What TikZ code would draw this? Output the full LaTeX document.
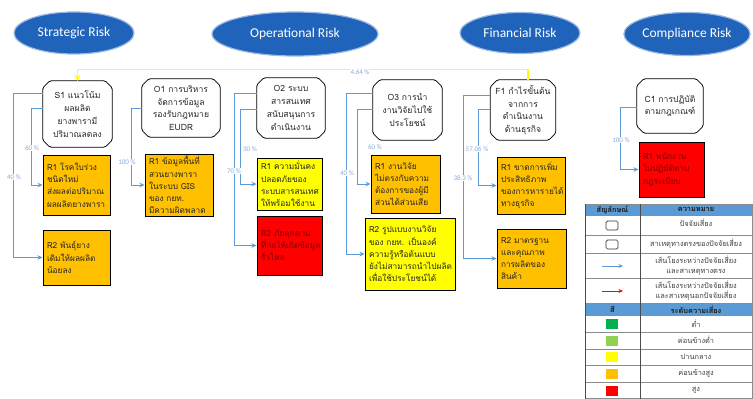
\documentclass[tikz,border=0pt]{standalone}
\usepackage{fontspec}
\setmainfont{Carlito}
\newfontfamily\thai[Script=Thai]{Loma}
\usetikzlibrary{shapes.geometric,arrows.meta,calc}
\definecolor{hdrblue}{HTML}{1F63BA}
\definecolor{hdredge}{HTML}{9DB9E0}
\definecolor{lineblue}{HTML}{5B9BD5}
\definecolor{pctcol}{HTML}{8EAADB}
\definecolor{rred}{HTML}{FF0000}
\definecolor{rorange}{HTML}{FFC000}
\definecolor{ryellow}{HTML}{FFFF00}
\definecolor{rgreen}{HTML}{00B050}
\definecolor{rlgreen}{HTML}{92D050}
\definecolor{legblue}{HTML}{5B9BD5}
\definecolor{darkred}{HTML}{7F0000}
\definecolor{gridcol}{HTML}{8C8C8C}
\newcommand\chambox[1]{\draw[cbline] ($(#1.north west)+(7,0)$) -- ($(#1.north east)+(-7,0)$) -- ($(#1.north east)+(0,7)$) -- ($(#1.south east)+(0,-7)$) -- ($(#1.south east)+(-7,0)$) -- ($(#1.south west)+(7,0)$) -- ($(#1.south west)+(0,-7)$) -- ($(#1.north west)+(0,7)$) -- cycle;}
\tikzset{
  hdr/.style={ellipse, fill=hdrblue, draw=hdredge, line width=1.2pt, text=white, font=\fontsize{13.5}{15}\selectfont, inner sep=0pt},
  causebox/.style={rectangle, draw=none, align=center, inner sep=1pt, font=\thai\fontsize{8.6}{12.8}\selectfont, text=black!85},
  cbline/.style={draw=black, line width=0.8pt, rounded corners=1.5pt},
  riskbox/.style={rectangle, draw=black, line width=1pt, align=left, inner xsep=4pt, inner ysep=1pt, font=\thai\fontsize{8.3}{12.2}\selectfont, text=black!85},
  rkred/.style={riskbox, fill=rred, text=darkred},
  rkorange/.style={riskbox, fill=rorange},
  rkyellow/.style={riskbox, fill=ryellow},
  link/.style={draw=lineblue, line width=0.9pt, -{Stealth[length=5pt,width=4.5pt]}},
  ylink/.style={draw=ryellow, line width=1.2pt, -{Stealth[length=6pt,width=6pt]}},
  pct/.style={font=\fontsize{7}{8}\selectfont, text=pctcol, fill=white, inner sep=0.8pt},
  legtxt/.style={font=\thai\fontsize{7.4}{10}\selectfont, text=black!75, align=center, inner sep=0pt},
  leghd/.style={font=\thai\bfseries\fontsize{7.4}{8}\selectfont, text=black!90, inner sep=0pt},
  legsq/.style={rectangle, draw=black!80, line width=0.7pt, rounded corners=1.5pt, minimum width=12pt, minimum height=9pt, inner sep=0pt},
  colsq/.style={rectangle, draw=none, minimum width=12pt, minimum height=10pt, inner sep=0pt}
}
\begin{document}
\begin{tikzpicture}[x=1pt,y=-1pt]
\useasboundingbox (0,0) rectangle (753,399);
\fill[white] (0,0) rectangle (753,399);

% header ellipses
\node[hdr, minimum width=120pt, minimum height=42pt] (hs) at (74,33) {Strategic Risk};
\node[hdr, minimum width=166pt, minimum height=44pt] (ho) at (295,34) {Operational Risk};
\node[hdr, minimum width=120pt, minimum height=41pt] (hf) at (520,33) {Financial Risk};
\node[hdr, minimum width=125pt, minimum height=43pt] (hc) at (687,34) {Compliance Risk};

% cause boxes
\node[causebox, minimum width=69pt, minimum height=66pt] (s1) at (77.5,114) {S1 แนวโน้ม\\ผลผลิต\\ยางพารามี\\ปริมาณลดลง};
\node[causebox, minimum width=78pt, minimum height=58pt] (o1) at (181,108) {O1 การบริหาร\\จัดการข้อมูล\\รองรับกฎหมาย\\EUDR};
\node[causebox, minimum width=68pt, minimum height=60pt] (o2) at (291,108) {O2 ระบบ\\สารสนเทศ\\สนับสนุนการ\\ดำเนินงาน};
\node[causebox, minimum width=69pt, minimum height=60pt] (o3) at (407.5,110) {O3 การนำ\\งานวิจัยไปใช้\\ประโยชน์};
\node[causebox, minimum width=65pt, minimum height=60pt] (f1) at (523,110) {F1 กำไรขั้นต้น\\จากการ\\ดำเนินงาน\\ด้านธุรกิจ};
\node[causebox, minimum width=66pt, minimum height=54pt] (c1) at (670,106) {C1 การปฏิบัติ\\ตามกฎเกณฑ์};
\chambox{s1}\chambox{o1}\chambox{o2}\chambox{o3}\chambox{f1}\chambox{c1}

% risk boxes
\node[rkorange, text width=59pt, minimum height=60pt] (s1r1) at (76.5,185) {R1 โรคใบร่วง\\ชนิดใหม่\\ส่งผลต่อปริมาณ\\ผลผลิตยางพารา};
\node[rkorange, text width=59pt, minimum height=55pt] (s1r2) at (76.5,257.5) {R2 พันธุ์ยาง\\เดิมให้ผลผลิต\\น้อยลง};
\node[rkorange, text width=60pt, minimum height=62pt] (o1r1) at (179,185) {R1 ข้อมูลพื้นที่\\สวนยางพารา\\ในระบบ GIS\\ของ กยท.\\มีความผิดพลาด};
\node[rkyellow, text width=57pt, minimum height=52pt] (o2r1) at (289.5,184) {R1 ความมั่นคง\\ปลอดภัยของ\\ระบบสารสนเทศ\\ให้พร้อมใช้งาน};
\node[rkred, text width=57pt, minimum height=59pt] (o2r2) at (289.5,245.5) {R2 ภัยคุกคาม\\ที่ก่อให้เกิดข้อมูล\\รั่วไหล};
\node[rkorange, text width=61pt, minimum height=58pt] (o3r1) at (405.5,184) {R1 งานวิจัย\\ไม่ตรงกับความ\\ต้องการของผู้มี\\ส่วนได้ส่วนเสีย};
\node[rkyellow, text width=82pt, minimum height=72pt] (o3r2) at (410,254) {R2 รูปแบบงานวิจัย\\ของ กยท. เป็นองค์\\ความรู้หรือต้นแบบ\\ยังไม่สามารถนำไปผลิต\\เพื่อใช้ประโยชน์ได้};
\node[rkorange, text width=60pt, minimum height=57pt] (f1r1) at (531,185.5) {R1 ขาดการเพิ่ม\\ประสิทธิภาพ\\ของการหารายได้\\ทางธุรกิจ};
\node[rkorange, text width=61pt, minimum height=59pt] (f1r2) at (531.5,258.5) {R2 มาตรฐาน\\และคุณภาพ\\การผลิตของ\\สินค้า};
\node[rkred, text width=57pt, minimum height=55pt] (c1r1) at (671.5,169.5) {R1 พนักงาน\\ไม่ปฏิบัติตาม\\กฎระเบียบ};

% connectors
\draw[link] ([yshift=21pt]s1.west) -- ++(-29,0) |- (s1r2.west);
\draw[link] ([yshift=6pt]s1.west) -- ++(-11,0) |- (s1r1.west);
\draw[link] (o1.west) -- ++(-10,0) |- (o1r1.west);
\draw[link] ([yshift=15pt]o2.west) -- ++(-22,0) |- (o2r2.west);
\draw[link] ([yshift=-1pt]o2.west) -- ++(-16,0) |- (o2r1.west);
\draw[link] ([yshift=17pt]o3.west) -- ++(-26,0) |- (o3r2.west);
\draw[link] ([yshift=1pt]o3.west) -- ++(-15,0) |- (o3r1.west);
\draw[link] ([yshift=15pt]f1.west) -- ++(-27,0) |- (f1r2.west);
\draw[link] ([yshift=1pt]f1.west) -- ++(-12,0) |- (f1r1.west);
\draw[link] ([yshift=-1pt]c1.west) -- ++(-16,0) |- (c1r1.west);
\draw[ylink] ([xshift=5pt]f1.north) -- ++(0,-10) -| (s1.north);

% percentages
\node[pct] (p1) at (32,148) {60 \%};
\node[pct] (p2) at (14,177) {40 \%};
\node[pct] (p3) at (127,162) {100 \%};
\node[pct] (p4) at (250,149) {30 \%};
\node[pct] (p5) at (234,171) {70 \%};
\node[pct] (p6) at (375,147) {60 \%};
\node[pct] (p7) at (347,173) {40 \%};
\node[pct] (p8) at (477,149) {57.06 \%};
\node[pct] (p9) at (463,178) {38.3 \%};
\node[pct] (p10) at (621,140) {100 \%};
\node[pct] (p11) at (360,72) {4.64 \%};

% legend table
\fill[legblue] (585,204.3) rectangle (752,215);
\fill[legblue] (585,303.3) rectangle (752,315.7);
\foreach \yy in {204.3,215,235.7,253.3,278.3,303.3,315.7,332.3,349,365.7,382.3,398.6}
  \draw[gridcol, line width=0.5pt] (585,\yy) -- (752,\yy);
\draw[black!70, line width=0.6pt] (585,204.3) -- (585,398.6);
\draw[black!70, line width=0.6pt] (640,204.3) -- (640,398.6);
\draw[gridcol, line width=0.5pt] (752,204.3) -- (752,398.6);

\node[leghd] (lh1) at (612.5,209.8) {สัญลักษณ์};
\node[leghd] (lh2) at (696,209.8) {ความหมาย};
\node[legsq] (sq1) at (612,225.5) {};
\node[legtxt] (lt1) at (696,222.5) {ปัจจัยเสี่ยง};
\node[legsq] (sq2) at (612,244.5) {};
\node[legtxt] (lt2) at (696,244) {สาเหตุทางตรงของปัจจัยเสี่ยง};
\coordinate (ba1) at (602,266);
\coordinate (ba2) at (623,266);
\draw[draw=lineblue, line width=0.9pt, -{Stealth[length=4.5pt,width=4pt]}] (ba1) -- (ba2);
\node[legtxt] (lt3) at (696,266) {เส้นโยงระหว่างปัจจัยเสี่ยง\\และสาเหตุทางตรง};
\coordinate (ra1) at (602,291);
\coordinate (ra2) at (623,291);
\draw[draw=rred, line width=0.9pt, -{Stealth[length=4.5pt,width=4pt]}] (ra1) -- (ra2);
\node[legtxt] (lt4) at (696,291) {เส้นโยงระหว่างปัจจัยเสี่ยง\\และสาเหตุนอกปัจจัยเสี่ยง};
\node[leghd] (lh3) at (612.5,309.5) {สี};
\node[leghd] (lh4) at (696,309.5) {ระดับความเสี่ยง};
\node[colsq, fill=rgreen] (c_1) at (612,324) {};
\node[legtxt] (lc1) at (696,323.5) {ต่ำ};
\node[colsq, fill=rlgreen] (c_2) at (612,340.7) {};
\node[legtxt] (lc2) at (696,340.2) {ค่อนข้างต่ำ};
\node[colsq, fill=ryellow] (c_3) at (612,357.3) {};
\node[legtxt] (lc3) at (696,356.8) {ปานกลาง};
\node[colsq, fill=rorange] (c_4) at (612,374) {};
\node[legtxt] (lc4) at (696,373.5) {ค่อนข้างสูง};
\node[colsq, fill=rred] (c_5) at (612,390.7) {};
\node[legtxt] (lc5) at (696,390.2) {สูง};
\end{tikzpicture}
\end{document}
